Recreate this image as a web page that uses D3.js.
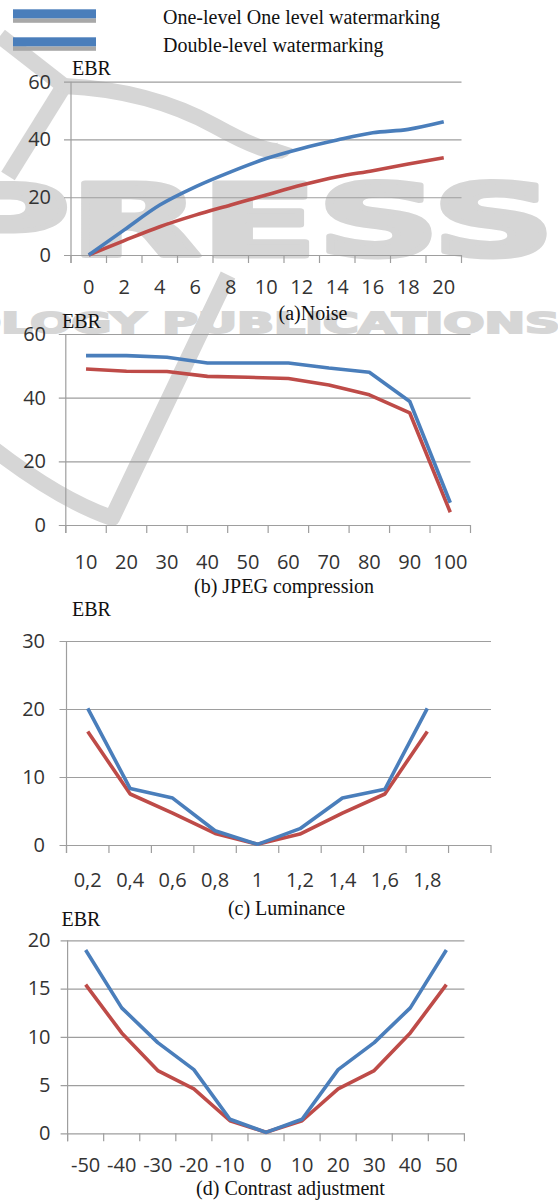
<!DOCTYPE html>
<html>
<head>
<meta charset="utf-8">
<script src="https://cdn.jsdelivr.net/npm/d3@7"></script>
<style>
  body { margin: 0; background: #fff; }
  svg { display: block; }
</style>
</head>
<body>
<div class="ebr-chart"></div>
<script>
// Data
const seriesNames = ['One-level One level watermarking', 'Double-level watermarking']

const noiseCats = ['0', '2', '4', '6', '8', '10', '12', '14', '16', '18', '20']
const noiseOne = [0, 8.7, 17.3, 23.6, 28.8, 33.4, 36.9, 39.8, 42.3, 43.5, 46.1]
const noiseDouble = [0, 5, 9.8, 13.8, 17.3, 20.8, 24.2, 27.1, 29.2, 31.5, 33.7]
const noiseTicks = [0, 20, 40, 60]

const jpegCats = ['10', '20', '30', '40', '50', '60', '70', '80', '90', '100']
const jpegOne = [53.2, 53.2, 52.7, 50.9, 50.9, 50.9, 49.3, 48, 38.8, 7]
const jpegDouble = [49, 48.3, 48.2, 46.7, 46.4, 46, 44, 40.9, 35.2, 4]
const jpegTicks = [0, 20, 40, 60]

const lumCats = ['0,2', '0,4', '0,6', '0,8', '1', '1,2', '1,4', '1,6', '1,8', '']
const lumOne = [20.1, 8.3, 6.9, 2.1, 0.1, 2.4, 6.9, 8.2, 20.1]
const lumDouble = [16.7, 7.5, 4.7, 1.7, 0.1, 1.6, 4.7, 7.5, 16.7]
const lumTicks = [0, 10, 20, 30]

const contrastCats = ['-50', '-40', '-30', '-20', '-10', '0', '10', '20', '30', '40', '50']
const contrastOne = [19, 13, 9.4, 6.6, 1.45, 0.1, 1.45, 6.6, 9.4, 13, 19]
const contrastDouble = [15.4, 10.4, 6.5, 4.6, 1.3, 0.1, 1.3, 4.6, 6.5, 10.4, 15.4]
const contrastTicks = [0, 5, 10, 15, 20]

/* Configuration */
const width = 558
const height = 1200
const selector = '.ebr-chart'
const colors = ['#4a7ebb', '#be4b48']
const gridColor = '#9e9e9e'
const wmColor = '#d6d6d6'
const serif = '"Liberation Serif", "Times New Roman", serif'
const sans = '"Open Sans", "Liberation Sans", sans-serif'

// Panel layout (pixels)
const panels = [
    { cats: noiseCats, one: noiseOne, two: noiseDouble, ticks: noiseTicks,
      x0: 71, x1: 461.5, yBot: 255, yTop: 81.7, labelRight: 51, labelY: 287,
      ebr: [72, 75], title: '(a)Noise', titlePos: [313, 320], smooth: true },
    { cats: jpegCats, one: jpegOne, two: jpegDouble, ticks: jpegTicks,
      x0: 65.8, x1: 470.5, yBot: 525, yTop: 334, labelRight: 46, labelY: 562,
      ebr: [62, 328], title: '(b) JPEG compression', titlePos: [284, 593] },
    { cats: lumCats, one: lumOne, two: lumDouble, ticks: lumTicks,
      x0: 66.5, x1: 491, yBot: 845, yTop: 641, labelRight: 45, labelY: 880,
      ebr: [72, 616], title: '(c) Luminance', titlePos: [286.5, 915] },
    { cats: contrastCats, one: contrastOne, two: contrastDouble, ticks: contrastTicks,
      x0: 67.6, x1: 464.4, yBot: 1133.3, yTop: 940.3, labelRight: 50.5, labelY: 1165,
      ebr: [61.5, 926], title: '(d) Contrast adjustment', titlePos: [290.5, 1195] },
]

const svg = d3
    .select(selector)
    .append('svg')
    .attr('width', width)
    .attr('height', height)
    .attr('viewBox', [0, 0, width, height])

/* Faint publisher watermark behind everything */
const wm = svg.append('g').attr('fill', wmColor).attr('stroke', wmColor)
wm.append('text')
    .attr('x', -55)
    .attr('y', 256)
    .attr('stroke-width', 5)
    .attr('stroke-linejoin', 'round')
    .attr('font-family', '"DejaVu Sans", sans-serif')
    .attr('font-weight', 'bold')
    .attr('font-size', 100)
    .attr('textLength', 610)
    .attr('lengthAdjust', 'spacingAndGlyphs')
    .text('PRESS')
wm.append('text')
    .attr('x', -40)
    .attr('y', 333)
    .attr('stroke-width', 2)
    .attr('font-family', '"DejaVu Sans", sans-serif')
    .attr('font-weight', 'bold')
    .attr('font-size', 28)
    .attr('textLength', 600)
    .attr('lengthAdjust', 'spacingAndGlyphs')
    .text('OLOGY PUBLICATIONS')
const swooshes = [
    'M-5,450 Q60,500 112,518 L228,275',
    'M8,176 L64,86',
    'M0,36 L64,86',
    'M64,86 Q150,90 215,126 T285,146',
]
wm.selectAll('path.sw')
    .data(swooshes)
    .join('path')
    .attr('class', 'sw')
    .attr('fill', 'none')
    .attr('stroke-width', 16)
    .attr('stroke-linejoin', 'round')
    .attr('d', d => d)

/* Legend */
const legend = svg.append('g')
    .selectAll('g')
    .data(seriesNames)
    .join('g')
    .attr('transform', (d, i) => `translate(0, ${i * 28})`)
legend.append('rect')
    .attr('x', 13).attr('y', 18.3).attr('width', 83).attr('height', 4.5)
    .attr('fill', '#a8a8a8')
legend.append('rect')
    .attr('x', 13).attr('y', 9.3).attr('width', 83).attr('height', 9)
    .attr('fill', colors[0])
legend.append('text')
    .attr('x', 163)
    .attr('y', 24)
    .attr('font-family', serif)
    .attr('font-size', 20)
    .attr('fill', '#111')
    .text(d => d)

function drawPanel(p) {
    const g = svg.append('g')
    const x = d3.scaleBand().domain(p.cats).range([p.x0, p.x1])
    const y = d3.scaleLinear()
        .domain([0, d3.max(p.ticks)])
        .range([p.yBot, p.yTop])
    const cx = c => x(c) + x.bandwidth() / 2

    // Gridlines + y labels
    const yAxis = g.append('g')
        .attr('transform', `translate(${p.x0 - 7}, 0)`)
        .call(d3.axisLeft(y)
            .tickValues(p.ticks)
            .tickSize(-(p.x1 - p.x0 + 7))
            .tickPadding(0))
    yAxis.select('.domain').remove()
    yAxis.selectAll('line').attr('stroke', gridColor).attr('stroke-width', 1.2)
    yAxis.selectAll('text')
        .attr('x', p.labelRight - (p.x0 - 7))
        .attr('font-family', sans)
        .attr('font-size', 20)
        .attr('fill', '#333')

    // Vertical axis line
    g.append('line')
        .attr('x1', p.x0).attr('x2', p.x0)
        .attr('y1', y(d3.max(p.ticks))).attr('y2', p.yBot + 8)
        .attr('stroke', gridColor).attr('stroke-width', 1.2)

    // Tick marks on band edges
    const edges = p.cats.map(c => x(c)).concat([p.x1])
    g.append('g')
        .selectAll('line')
        .data(edges)
        .join('line')
        .attr('x1', d => d).attr('x2', d => d)
        .attr('y1', p.yBot).attr('y2', p.yBot + 8)
        .attr('stroke', gridColor).attr('stroke-width', 1.2)

    // Category labels
    g.append('g')
        .selectAll('text')
        .data(p.cats)
        .join('text')
        .attr('x', cx)
        .attr('y', p.labelY)
        .attr('dy', '0.35em')
        .attr('text-anchor', 'middle')
        .attr('font-family', sans)
        .attr('font-size', 20)
        .attr('fill', '#333')
        .text(d => d)

    // Series
    const line = d3.line()
        .x((d, i) => cx(p.cats[i]))
        .y(d => y(d))
        .curve(p.smooth ? d3.curveMonotoneX : d3.curveLinear)
    g.append('g')
        .selectAll('path')
        .data([p.two, p.one])
        .join('path')
        .attr('fill', 'none')
        .attr('stroke', (d, i) => (i === 0 ? colors[1] : colors[0]))
        .attr('stroke-width', 3.6)
        .attr('stroke-linejoin', 'round')
        .attr('d', line)

    // EBR label and caption
    g.append('text')
        .attr('x', p.ebr[0]).attr('y', p.ebr[1])
        .attr('font-family', serif).attr('font-size', 20).attr('fill', '#111')
        .text('EBR')
    g.append('text')
        .attr('x', p.titlePos[0]).attr('y', p.titlePos[1])
        .attr('text-anchor', 'middle')
        .attr('font-family', serif).attr('font-size', 20).attr('fill', '#111')
        .text(p.title)
}

panels.forEach(drawPanel)
</script>
</body>
</html>
